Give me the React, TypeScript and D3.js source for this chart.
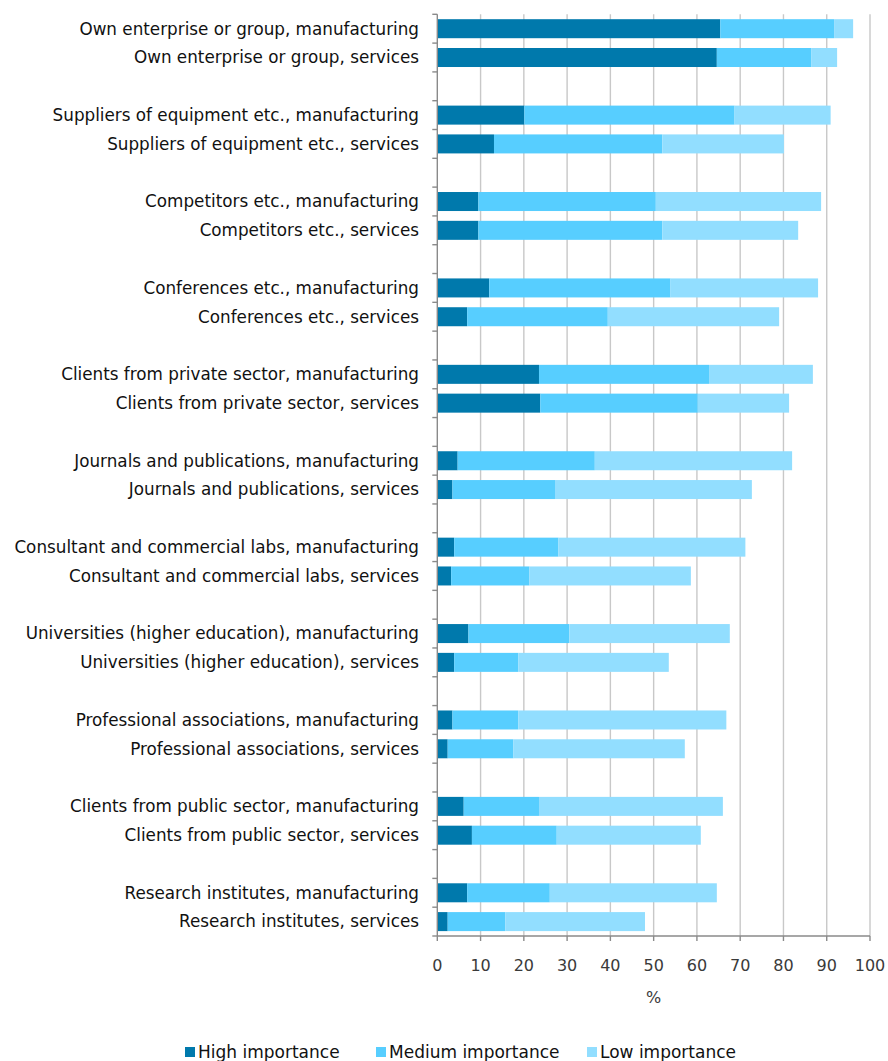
import React from "react";
import * as d3 from "d3";

const categories = [
  "Own enterprise or group, manufacturing",
  "Own enterprise or group, services",
  "Suppliers of equipment etc., manufacturing",
  "Suppliers of equipment etc., services",
  "Competitors etc., manufacturing",
  "Competitors etc., services",
  "Conferences etc., manufacturing",
  "Conferences etc., services",
  "Clients from private sector, manufacturing",
  "Clients from private sector, services",
  "Journals and publications, manufacturing",
  "Journals and publications, services",
  "Consultant and commercial labs, manufacturing",
  "Consultant and commercial labs, services",
  "Universities (higher education), manufacturing",
  "Universities (higher education), services",
  "Professional associations, manufacturing",
  "Professional associations, services",
  "Clients from public sector, manufacturing",
  "Clients from public sector, services",
  "Research institutes, manufacturing",
  "Research institutes, services",
];

const high = [65.4, 64.6, 20.1, 13.1, 9.5, 9.5, 12.0, 6.9, 23.5, 23.8, 4.7, 3.5, 3.9, 3.2, 7.2, 3.9, 3.5, 2.4, 6.1, 8.0, 6.9, 2.4];
const medium = [26.3, 21.8, 48.6, 38.9, 41.0, 42.5, 41.9, 32.5, 39.3, 36.4, 31.7, 23.7, 24.1, 18.1, 23.3, 14.8, 15.2, 15.2, 17.4, 19.6, 19.1, 13.3];
const low = [4.4, 6.0, 22.2, 28.1, 38.2, 31.4, 34.1, 39.6, 24.0, 21.1, 45.6, 45.5, 43.2, 37.3, 37.1, 34.8, 48.1, 39.6, 42.5, 33.3, 38.6, 32.3];

const seriesNames = ["High importance", "Medium importance", "Low importance"];
const seriesColors = ["#0079AC", "#57CEFF", "#92DEFF"];
const xTicks = [0, 10, 20, 30, 40, 50, 60, 70, 80, 90, 100];

const FONT = "'DejaVu Sans', Verdana, sans-serif";

export default function App() {
  const W = 888;
  const H = 1061;
  const left = 437.3;
  const right = 870;
  const top = 14.3;
  const bottom = 936;

  // Slots: pairs of bars separated by blank slots (no blank after the last group)
  const slots: string[] = [];
  categories.forEach((c, i) => {
    slots.push(c);
    if (i % 2 === 1 && i < categories.length - 1) slots.push("__blank" + i);
  });

  const x = d3.scaleLinear().domain([0, 100]).range([left, right]);
  const y = d3.scaleBand<string>().domain(slots).range([top, bottom]).paddingInner(0.34).paddingOuter(0.17);
  const step = (bottom - top) / slots.length;

  const rows = categories.map((c, i) => ({ cat: c, high: high[i], medium: medium[i], low: low[i] }));
  const stack = d3.stack<any>().keys(["high", "medium", "low"])(rows);

  const legendItems = [
    { x: 185, label: seriesNames[0], color: seriesColors[0] },
    { x: 376, label: seriesNames[1], color: seriesColors[1] },
    { x: 587, label: seriesNames[2], color: seriesColors[2] },
  ];

  return (
    <svg width={W} height={H} style={{ position: "absolute", left: 0, top: 0 }}>
      <rect x={0} y={0} width={W} height={H} fill="#ffffff" />
      {/* grid lines */}
      {xTicks.slice(1).map((t) => (
        <line key={"g" + t} x1={x(t)} x2={x(t)} y1={top} y2={bottom} stroke="#c8c8c8" strokeWidth={1.4} />
      ))}
      {/* bars */}
      {stack.map((s, si) => (
        <g key={"s" + si} fill={seriesColors[si]}>
          {s.map((d: any, i: number) => (
            <rect
              key={i}
              x={x(d[0])}
              y={y(categories[i])}
              width={x(d[1]) - x(d[0])}
              height={y.bandwidth()}
            />
          ))}
        </g>
      ))}
      {/* y axis */}
      <line x1={left} x2={left} y1={top} y2={bottom} stroke="#8a8a8a" strokeWidth={1.4} />
      {d3.range(slots.length + 1).map((k) => (
        <line key={"yt" + k} x1={left - 5} x2={left} y1={top + k * step} y2={top + k * step} stroke="#8a8a8a" strokeWidth={1.4} />
      ))}
      {/* x axis */}
      <line x1={left} x2={right} y1={bottom} y2={bottom} stroke="#8a8a8a" strokeWidth={1.4} />
      {xTicks.map((t) => (
        <line key={"xt" + t} x1={x(t)} x2={x(t)} y1={bottom} y2={bottom + 5} stroke="#8a8a8a" strokeWidth={1.4} />
      ))}
      {xTicks.map((t) => (
        <text key={"xl" + t} x={x(t)} y={971} textAnchor="middle" fontFamily={FONT} fontSize={16} fill="#3a3a3a">
          {t}
        </text>
      ))}
      <text x={x(50)} y={1003} textAnchor="middle" fontFamily={FONT} fontSize={16} fill="#3a3a3a">
        %
      </text>
      {/* category labels */}
      {categories.map((c) => (
        <text
          key={"l" + c}
          x={419}
          y={(y(c) as number) + y.bandwidth() / 2}
          dy="0.35em"
          textAnchor="end"
          fontFamily={FONT}
          fontSize={16.8}
          fill="#111"
        >
          {c}
        </text>
      ))}
      {/* legend */}
      {legendItems.map((it) => (
        <g key={it.label}>
          <rect x={it.x} y={1047} width={10} height={10} fill={it.color} />
          <text x={it.x + 13} y={1058} fontFamily={FONT} fontSize={17} fill="#111">
            {it.label}
          </text>
        </g>
      ))}
    </svg>
  );
}
